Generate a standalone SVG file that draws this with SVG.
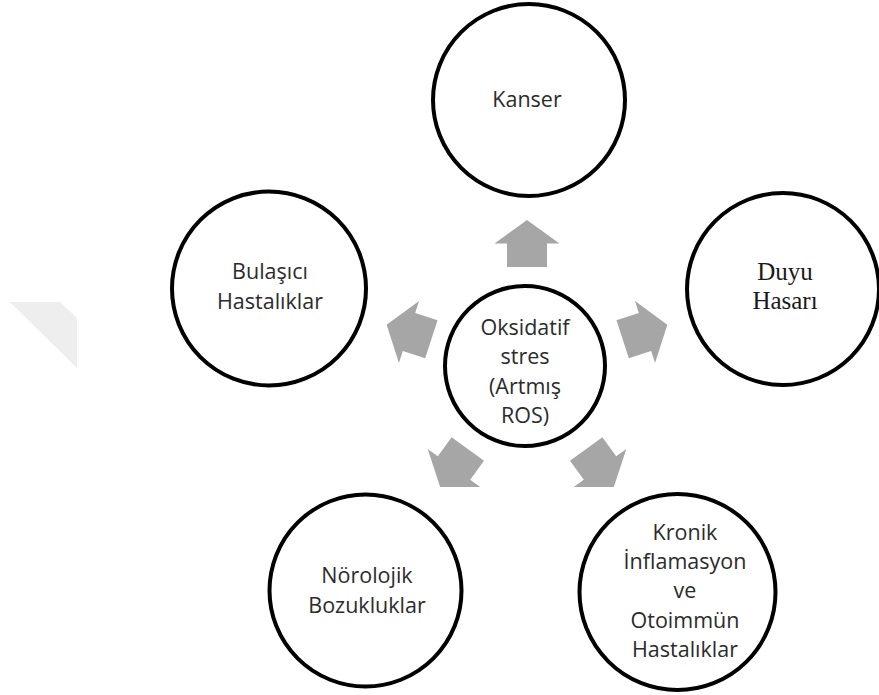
<svg xmlns="http://www.w3.org/2000/svg" width="879" height="695" viewBox="0 0 879 695">
  <style>
    .ring { fill: #ffffff; stroke: #000000; stroke-width: 4; }
    .lbl { font-family: "Open Sans", "Noto Sans", sans-serif; font-size: 21.5px; fill: #2b2b2b; text-anchor: middle; }
    .lbl-serif { font-family: "Liberation Serif", "Times New Roman", serif; font-size: 25px; fill: #1a1a1a; text-anchor: middle; }
    .arrow { fill: #a6a6a6; }
  </style>
  <defs>
    <!-- block arrow pointing up, centred on its own origin -->
    <polygon id="blockArrow" points="0,-23.5 32.5,0 20,0 20,23.5 -20,23.5 -20,0 -32.5,0"/>
  </defs>

  <rect width="879" height="695" fill="#ffffff"/>

  <!-- faint mark at the left margin -->
  <polygon points="10,302 60,302 77,318 77,368" fill="#eeeeee"/>

  <!-- connectors: five block arrows radiating from the centre -->
  <g id="connectors" class="arrow">
    <use href="#blockArrow" transform="translate(527 243.5)"/>
    <use href="#blockArrow" transform="translate(645 332) rotate(72)"/>
    <use href="#blockArrow" transform="translate(600 468) rotate(144)"/>
    <use href="#blockArrow" transform="translate(454 468) rotate(-144)"/>
    <use href="#blockArrow" transform="translate(409 332) rotate(-72)"/>
  </g>

  <g id="node-center">
    <circle class="ring" cx="525" cy="366" r="80"/>
    <text class="lbl" x="525" y="335">Oksidatif</text>
    <text class="lbl" x="525" y="364">stres</text>
    <text class="lbl" x="525" y="394">(Artmış</text>
    <text class="lbl" x="525" y="423">ROS)</text>
  </g>

  <g id="node-kanser">
    <circle class="ring" cx="529" cy="100" r="96"/>
    <text class="lbl" x="527" y="107">Kanser</text>
  </g>

  <g id="node-duyu">
    <circle class="ring" cx="783" cy="289" r="96"/>
    <text class="lbl-serif" x="785" y="280">Duyu</text>
    <text class="lbl-serif" x="785" y="309">Hasarı</text>
  </g>

  <g id="node-bulasici">
    <circle class="ring" cx="269" cy="288.5" r="97"/>
    <text class="lbl" x="270" y="279">Bulaşıcı</text>
    <text class="lbl" x="270" y="309">Hastalıklar</text>
  </g>

  <g id="node-norolojik">
    <circle class="ring" cx="365.5" cy="590.5" r="96"/>
    <text class="lbl" x="367" y="583">Nörolojik</text>
    <text class="lbl" x="367" y="613">Bozukluklar</text>
  </g>

  <g id="node-kronik">
    <circle class="ring" cx="677.5" cy="592" r="98"/>
    <text class="lbl" x="685" y="540">Kronik</text>
    <text class="lbl" x="685" y="569">İnflamasyon</text>
    <text class="lbl" x="685" y="598">ve</text>
    <text class="lbl" x="685" y="628">Otoimmün</text>
    <text class="lbl" x="685" y="657">Hastalıklar</text>
  </g>
</svg>
